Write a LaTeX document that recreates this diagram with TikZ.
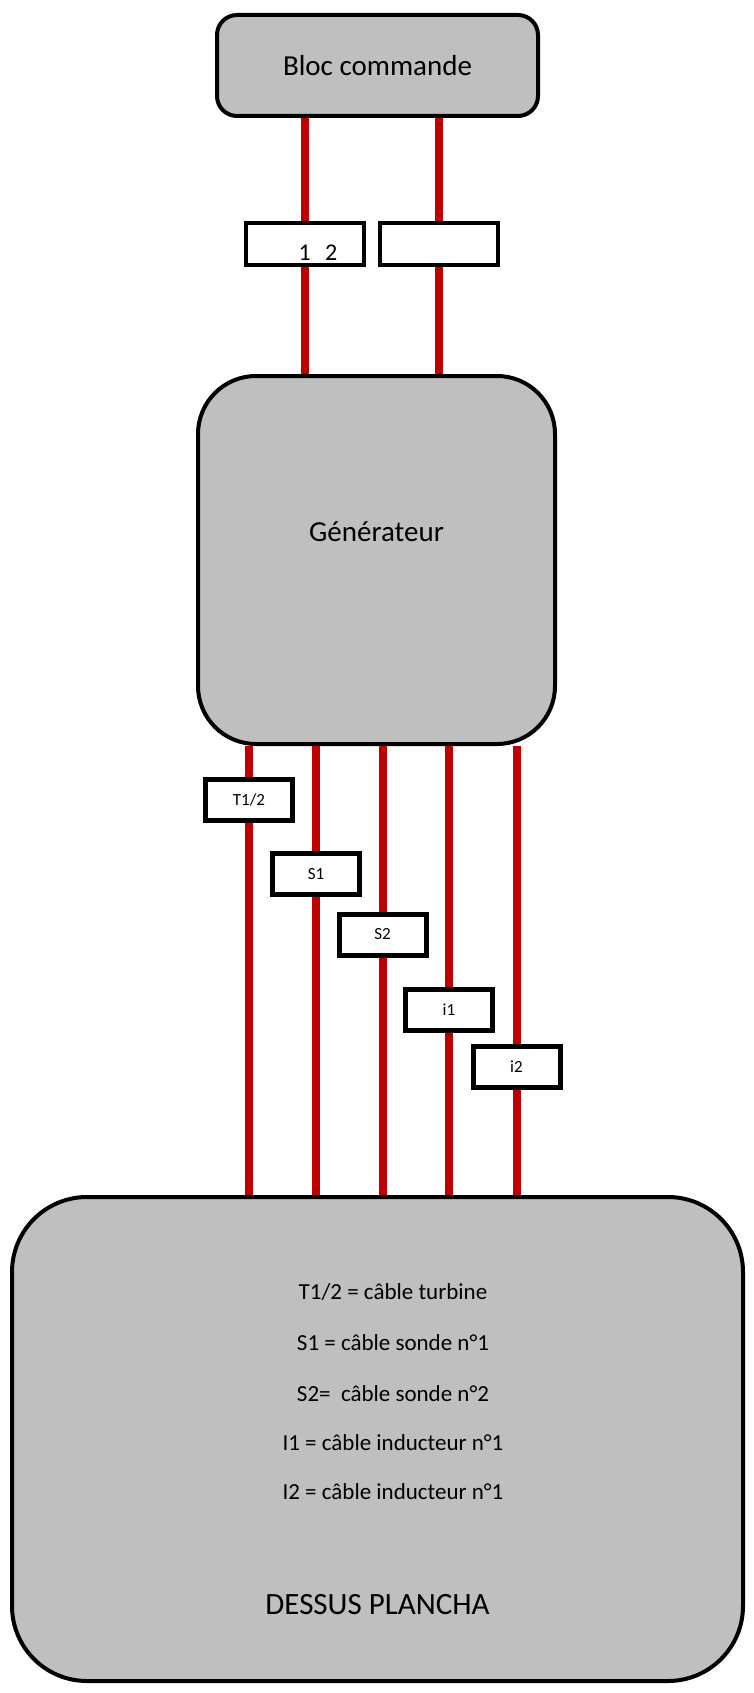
\documentclass[tikz,border=0pt]{standalone}
\usepackage{fontspec}
\setmainfont{Carlito}
\definecolor{cablered}{RGB}{192,0,0}
\definecolor{boxgray}{RGB}{191,191,191}

\begin{document}
\begin{tikzpicture}[x=1pt, y=-1pt,
  mainbox/.style={rectangle, draw=black, line width=4pt, fill=boxgray, inner sep=0pt},
  plug/.style={rectangle, draw=black, line width=5pt, fill=white, inner sep=0pt,
               minimum width=87pt, minimum height=41pt, font=\fontsize{17}{20}\selectfont},
  bigtxt/.style={font=\fontsize{29}{34}\selectfont},
  legtxt/.style={font=\fontsize{23}{27}\selectfont},
  cable/.style={draw=cablered, line width=8pt}
]
\useasboundingbox (0,0) rectangle (753,1693);

% Main blocks
\node[mainbox, bigtxt, rounded corners=20pt, minimum width=321pt, minimum height=101pt] (bloc) at (377.5,65.5) {Bloc commande};
\node[mainbox, rounded corners=58pt, minimum width=357pt, minimum height=368pt] (gen) at (376.5,560) {};
\node[bigtxt] (gentxt) at (376.5,532) {Générateur};
\node[mainbox, rounded corners=75pt, minimum width=731pt, minimum height=484pt] (plan) at (377.5,1439) {};

% Top connectors
\node[plug, line width=4pt, minimum width=118pt, minimum height=42pt] (cbA) at (305,244) {};
\node[plug, line width=4pt, minimum width=118pt, minimum height=42pt] (cbB) at (438.5,244) {};
\node[font=\fontsize{24}{28}\selectfont] (cbtxt) at (318,253) {1\hspace{0.6em}2};

% Bottom connectors
\node[plug] (t12) at (249,799.5)  {T1/2};
\node[plug] (s1)  at (316,874)    {S1};
\node[plug] (s2)  at (382.5,934.5) {S2};
\node[plug] (i1)  at (449,1010)   {i1};
\node[plug] (i2)  at (516.5,1066.5) {i2};

% Cables
\foreach \c in {cbA,cbB}{
  \draw[cable] (bloc.south -| \c) -- (\c.north);
  \draw[cable] (\c.south) -- (gen.north -| \c);
}
\foreach \c in {t12,s1,s2,i1,i2}{
  \draw[cable] (gen.south -| \c) -- (\c.north);
  \draw[cable] (\c.south) -- (plan.north -| \c);
}

% Legend
\node[legtxt] (legA) at (393,1292) {T1/2 = câble turbine};
\node[legtxt] (legB) at (393,1343) {S1 = câble sonde n°1};
\node[legtxt] (legC) at (393,1394) {S2=~ câble sonde n°2};
\node[legtxt] (legD) at (393,1443) {I1 = câble inducteur n°1};
\node[legtxt] (legE) at (393,1492) {I2 = câble inducteur n°1};
\node[font=\fontsize{31}{36}\selectfont] (dessus) at (377.5,1605) {DESSUS PLANCHA};
\end{tikzpicture}
\end{document}
